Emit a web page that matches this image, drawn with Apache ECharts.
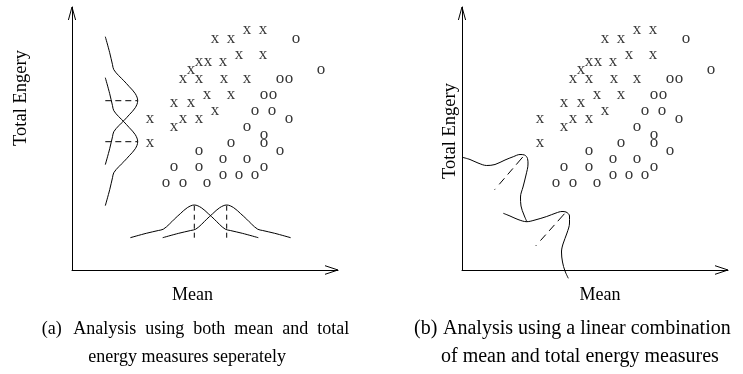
<!DOCTYPE html>
<html>
<head>
<meta charset="utf-8">
<script src="https://cdn.jsdelivr.net/npm/echarts@6/dist/echarts.min.js"></script>
<style>
html, body { margin: 0; padding: 0; background: #fff; }
#chart { width: 743px; height: 374px; }
</style>
</head>
<body>
<div id="chart"></div>
<script>
// Samples of the two classes: [mean, total energy]
const classX = [
  [143, 229], [159, 229], [175, 238], [191, 238], [167, 213], [191, 213],
  [127, 206], [136, 206], [151, 206], [119, 198], [111, 189], [127, 189],
  [152, 189], [175, 189], [135, 173], [159, 173], [102, 165], [119, 165],
  [143, 157], [78, 149], [111, 149], [127, 149], [102, 141], [78, 125]
];
const classO = [
  [224, 229], [249, 198], [208, 189], [217, 189], [192, 173], [201, 173],
  [183, 157], [200, 157], [217, 149], [175, 141], [192, 133], [159, 125],
  [192, 125], [127, 117], [208, 117], [151, 109], [175, 109], [102, 101],
  [127, 101], [192, 101], [151, 93], [167, 93], [183, 93], [94, 85],
  [111, 85], [135, 85]
];

// Panel (a): class densities along the energy axis, drawn beside the y axis
const energyDensityX = [
  [33.3, 233.3], [37.7, 217.3], [40.5, 205.3], [41.8, 200.3], [46.8, 194.3],
  [51.8, 189.3], [57.3, 183.3], [63.3, 176.3], [65.7, 169.3], [63.3, 162.3],
  [57.3, 155.3], [51.8, 149.3], [46.8, 144.3], [41.8, 138.3], [40.5, 133.3],
  [37.7, 121.3], [33.3, 105.3]
];
const energyDensityO = [
  [33.3, 192.3], [37.7, 176.3], [40.5, 164.3], [41.8, 159.3], [46.8, 153.3],
  [51.8, 148.3], [57.3, 142.3], [63.3, 135.3], [65.7, 128.3], [63.3, 121.3],
  [57.3, 114.3], [51.8, 108.3], [46.8, 103.3], [41.8, 97.3], [40.5, 92.3],
  [37.7, 80.3], [33.3, 64.3]
];
// Panel (a): class densities along the mean axis, drawn above the x axis
const meanDensityX = [
  [58.3, 32.3], [74.3, 36.7], [86.3, 39.5], [91.3, 40.8], [97.3, 45.8],
  [102.3, 50.8], [108.3, 56.3], [115.3, 62.3], [122.3, 65], [129.3, 62.3],
  [136.3, 56.3], [142.3, 50.8], [147.3, 45.8], [153.3, 40.8], [158.3, 39.5],
  [170.3, 36.7], [186.3, 32.3]
];
const meanDensityO = [
  [90.7, 32.3], [106.7, 36.7], [118.7, 39.5], [123.7, 40.8], [129.7, 45.8],
  [134.7, 50.8], [140.7, 56.3], [147.7, 62.3], [154.7, 65], [161.7, 62.3],
  [168.7, 56.3], [174.7, 50.8], [179.7, 45.8], [185.7, 40.8], [190.7, 39.5],
  [202.7, 36.7], [218.7, 32.3]
];
// Panel (b): class densities along the combined (diagonal) direction
const comboDensityX = [
  [0.3, 112.7], [8, 110.5], [16, 107], [24.7, 104.5], [33, 105.5], [43, 110],
  [51.3, 113.3], [58, 115.5], [62.5, 115], [65.5, 111.5], [66, 106], [64, 95],
  [61, 83], [58.5, 73], [59, 64], [62, 55], [65, 48]
];
const comboDensityO = [
  [41.3, 56.7], [48, 54], [56, 50.5], [64.7, 48.3], [73, 50], [84.7, 53.5],
  [94, 57], [100, 58.5], [104, 58], [107.5, 54], [107.5, 47], [105, 37],
  [101, 26], [99.5, 18], [100.5, 8], [103, -1], [106.3, -8.3]
];

const axisNames = { x: 'Mean', y: 'Total Engery' };
const captionA = ['(a)', 'Analysis  using  both  mean  and  total', 'energy measures seperately'];
const captionB = ['(b)', 'Analysis using a linear combination', 'of mean and total energy measures'];

const X_MAX = 266, Y_MAX = 263;
const SERIF = '"Liberation Serif", "Times New Roman", serif';

const chart = echarts.init(document.getElementById('chart'), null, { renderer: 'canvas' });

function valueAxis(gridIndex, max) {
  return {
    type: 'value', gridIndex, min: 0, max,
    axisLine: { show: true, onZero: false, lineStyle: { color: '#000', width: 1 } },
    axisTick: { show: false }, axisLabel: { show: false }, splitLine: { show: false }
  };
}

function glyphSeries(data, ch, idx) {
  return {
    type: 'scatter', xAxisIndex: idx, yAxisIndex: idx, data,
    symbol: 'circle', symbolSize: 1, itemStyle: { color: 'rgba(0,0,0,0)' },
    label: {
      show: true, position: 'inside', formatter: ch, color: '#000',
      fontFamily: SERIF, fontSize: 17, offset: [0, -2]
    },
    silent: true, z: 3
  };
}

function curve(data, idx, extra) {
  return Object.assign({
    type: 'line', xAxisIndex: idx, yAxisIndex: idx, data,
    showSymbol: false, symbol: 'none', smooth: 0.35, clip: false,
    lineStyle: { color: '#000', width: 1 }, silent: true
  }, extra || {});
}

// mode of a density: point with the largest height
function peakBy(data, key) {
  return data.reduce((a, b) => (b[key] > a[key] ? b : a));
}

// dashed guide from the base line of a density to its mode
function modeLine(data, vertical, idx, dash) {
  const peak = peakBy(data, vertical ? 0 : 1);
  const base = data[0];
  const seg = vertical ? [[base[0], peak[1]], peak] : [[peak[0], base[1]], peak];
  return curve(seg, idx, { smooth: false, lineStyle: { color: '#000', width: 1, type: dash } });
}

// dash-dot guide from the middle of the chord of a skewed density to its mode
function chordLine(data, idx) {
  const a = data[0], b = data[data.length - 1];
  const mid = [(a[0] + b[0]) / 2, (a[1] + b[1]) / 2];
  const peak = data.reduce((p, q) => (q[0] + q[1] > p[0] + p[1] ? q : p));
  return curve([mid, peak], idx, {
    smooth: false, lineStyle: { color: '#000', width: 1, type: [1, 6, 8, 5, 8, 5, 10, 60] }
  });
}

chart.setOption({
  animation: false,
  backgroundColor: '#fff',
  grid: [
    { left: 72, top: 7, width: X_MAX, height: Y_MAX },
    { left: 462, top: 7, width: X_MAX, height: Y_MAX }
  ],
  xAxis: [valueAxis(0, X_MAX), valueAxis(1, X_MAX)],
  yAxis: [valueAxis(0, Y_MAX), valueAxis(1, Y_MAX)],
  series: [
    glyphSeries(classX, 'x', 0), glyphSeries(classO, 'o', 0),
    glyphSeries(classX, 'x', 1), glyphSeries(classO, 'o', 1),
    curve(energyDensityX, 0), curve(energyDensityO, 0),
    curve(meanDensityX, 0), curve(meanDensityO, 0),
    modeLine(energyDensityX, true, 0, [6, 4]), modeLine(energyDensityO, true, 0, [6, 4]),
    modeLine(meanDensityX, false, 0, [5, 4]), modeLine(meanDensityO, false, 0, [5, 4]),
    curve(comboDensityX, 1), curve(comboDensityO, 1),
    chordLine(comboDensityX, 1), chordLine(comboDensityO, 1)
  ]
});

// axis arrowheads, axis titles and panel captions
function arrowHeads(g) {
  const tx = chart.convertToPixel({ gridIndex: g }, [X_MAX, 0]);
  const ty = chart.convertToPixel({ gridIndex: g }, [0, Y_MAX]);
  const st = { stroke: '#000', fill: null, lineWidth: 1 };
  return [
    { type: 'polyline', shape: { points: [[tx[0] - 13, tx[1] - 4.3], tx, [tx[0] - 13, tx[1] + 4.3]] }, style: st },
    { type: 'polyline', shape: { points: [[ty[0] - 3.6, ty[1] + 13], ty, [ty[0] + 3.6, ty[1] + 13]] }, style: st }
  ];
}

function text(str, x, y, opts) {
  const o = opts || {};
  return {
    type: 'text', x, y, rotation: o.rotation || 0,
    style: {
      text: str, fill: '#000', font: (o.size || 18) + 'px ' + SERIF,
      align: o.align || 'left', verticalAlign: 'middle'
    }
  };
}

chart.setOption({
  graphic: [].concat(
    arrowHeads(0), arrowHeads(1),
    [
      text(axisNames.y, 21, 98, { rotation: Math.PI / 2, align: 'center', size: 18.5 }),
      text(axisNames.y, 450, 131, { rotation: Math.PI / 2, align: 'center', size: 18.5 }),
      text(axisNames.x, 192.5, 295, { align: 'center' }),
      text(axisNames.x, 600, 295, { align: 'center' }),
      text(captionA[0], 41.7, 329),
      text(captionA[1], 73.3, 329),
      text(captionA[2], 88.3, 357),
      text(captionB[0], 414, 329, { size: 20 }),
      text(captionB[1], 443, 329, { size: 20 }),
      text(captionB[2], 441, 357, { size: 20 })
    ]
  )
});
</script>
</body>
</html>
